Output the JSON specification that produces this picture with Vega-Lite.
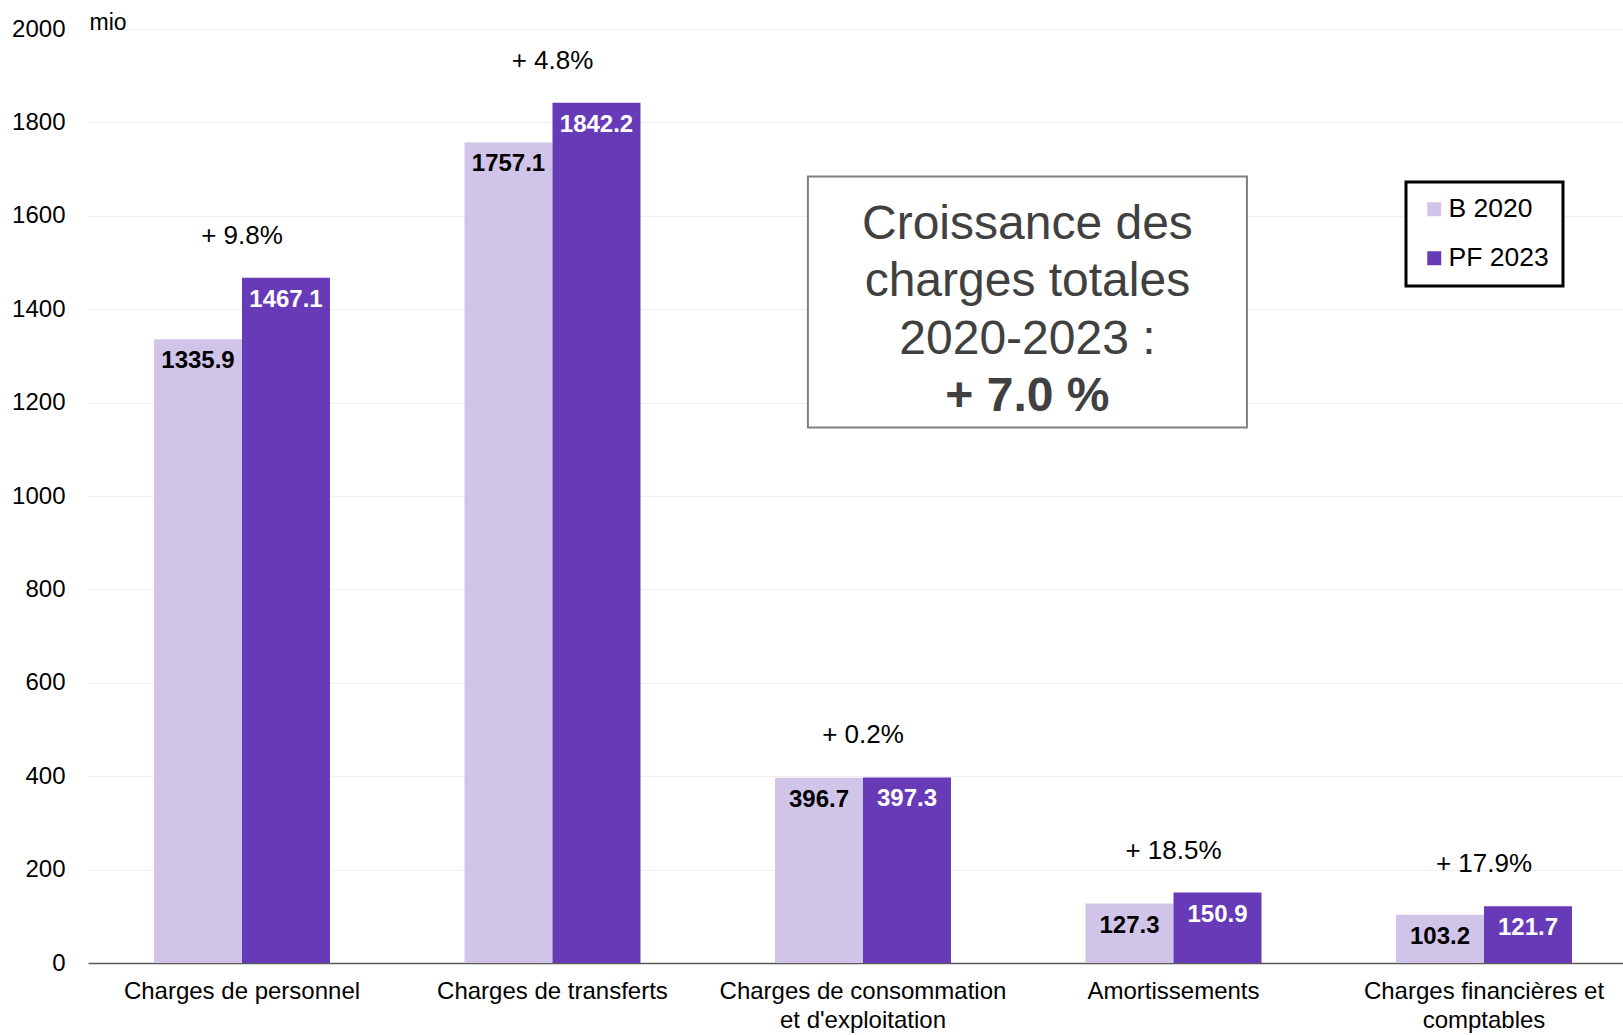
{
  "$schema": "https://vega.github.io/schema/vega-lite/v6.json",
  "width": 1535,
  "height": 934,
  "autosize": {"type": "none"},
  "padding": {"left": 88, "top": 29, "right": 0, "bottom": 72},
  "background": "white",
  "config": {
    "font": "Liberation Sans",
    "view": {"stroke": null},
    "legend": {"strokeWidth": 3}
  },
  "data": {
    "values": [
      {"cat": "Charges de personnel", "B 2020": 1335.9, "PF 2023": 1467.1, "growth": "+ 9.8%"},
      {"cat": "Charges de transferts", "B 2020": 1757.1, "PF 2023": 1842.2, "growth": "+ 4.8%"},
      {"cat": "Charges de consommation et d'exploitation", "B 2020": 396.7, "PF 2023": 397.3, "growth": "+ 0.2%"},
      {"cat": "Amortissements", "B 2020": 127.3, "PF 2023": 150.9, "growth": "+ 18.5%"},
      {"cat": "Charges financières et comptables", "B 2020": 103.2, "PF 2023": 121.7, "growth": "+ 17.9%"}
    ]
  },
  "layer": [
    {
      "layer": [
        {
          "transform": [{"fold": ["B 2020", "PF 2023"], "as": ["series", "value"]}],
          "mark": {"type": "bar"},
          "encoding": {
            "x": {
              "field": "cat", "type": "nominal", "sort": null,
              "scale": {"paddingInner": 0.4332, "paddingOuter": 0.1884, "align": 0.564},
              "axis": {
                "title": null,
                "labelExpr": "datum.label == \"Charges de consommation et d'exploitation\" ? [\"Charges de consommation\", \"et d'exploitation\"] : datum.label == \"Charges financières et comptables\" ? [\"Charges financières et\", \"comptables\"] : datum.label",
                "labelAngle": 0, "labelFontSize": 24, "labelColor": "#000", "labelPadding": 16,
                "labelBaseline": "top", "labelLineHeight": 29, "labelLimit": 500,
                "domainColor": "#595959", "domainWidth": 1.5, "ticks": false, "grid": false
              }
            },
            "xOffset": {"field": "series", "scale": {"paddingInner": 0, "paddingOuter": 0}},
            "y": {
              "field": "value", "type": "quantitative",
              "scale": {"domain": [0, 2000], "nice": false},
              "axis": {
                "title": "mio", "values": [0, 200, 400, 600, 800, 1000, 1200, 1400, 1600, 1800, 2000],
                "grid": true, "gridColor": "#efefef", "domain": false, "ticks": false, "tickSize": 0,
                "labelFontSize": 24, "labelPadding": 23, "labelColor": "#000", "format": "d",
                "titleAngle": 0, "titleAlign": "left", "titleBaseline": "alphabetic",
                "titleX": 1, "titleY": 0, "titleFontSize": 23, "titleFontWeight": "normal", "titleColor": "#000"
              }
            },
            "color": {
              "field": "series", "type": "nominal",
              "scale": {"domain": ["B 2020", "PF 2023"], "range": ["#D1C4E9", "#673AB7"]},
              "legend": {
                "title": null, "orient": "none", "legendX": 1318, "legendY": 153,
                "symbolType": "square", "symbolSize": 196, "symbolStrokeWidth": 0,
                "labelFontSize": 26.5, "labelColor": "#000", "labelOffset": 1,
                "strokeColor": "#000", "fillColor": "white",
                "padding": 14, "symbolOffset": 1, "rowPadding": 22
              }
            }
          }
        },
        {
          "transform": [{"fold": ["B 2020", "PF 2023"], "as": ["series", "value"]}],
          "mark": {"type": "text", "fontWeight": "bold", "fontSize": 24, "baseline": "middle", "dy": 22},
          "encoding": {
            "x": {"field": "cat", "type": "nominal", "sort": null},
            "xOffset": {"field": "series"},
            "y": {"field": "value", "type": "quantitative"},
            "text": {"field": "value", "type": "quantitative", "format": ".1f"},
            "color": {"condition": {"test": "datum.series == 'PF 2023'", "value": "white"}, "value": "black"}
          }
        },
        {
          "mark": {"type": "text", "fontSize": 26, "baseline": "middle", "dy": -42, "color": "#000"},
          "encoding": {
            "x": {"field": "cat", "type": "nominal", "sort": null},
            "y": {"field": "PF 2023", "type": "quantitative"},
            "text": {"field": "growth"}
          }
        }
      ]
    },
    {
      "data": {"values": [{}]},
      "layer": [
        {
          "mark": {"type": "rect", "fill": "white", "stroke": "#808080", "strokeWidth": 2},
          "encoding": {
            "x": {"datum": 0.469, "type": "quantitative", "scale": {"domain": [0, 1], "nice": false, "zero": false}, "axis": null},
            "x2": {"datum": 0.755},
            "y": {"datum": 1684.2, "type": "quantitative"},
            "y2": {"datum": 1146.7}
          }
        },
        {
          "mark": {"type": "text", "fontSize": 48, "color": "#404040", "baseline": "middle"},
          "encoding": {
            "x": {"datum": 0.612, "type": "quantitative"},
            "y": {"datum": 1580, "type": "quantitative"},
            "text": {"value": "Croissance des"}
          }
        },
        {
          "mark": {"type": "text", "fontSize": 48, "color": "#404040", "baseline": "middle"},
          "encoding": {
            "x": {"datum": 0.612, "type": "quantitative"},
            "y": {"datum": 1458, "type": "quantitative"},
            "text": {"value": "charges totales"}
          }
        },
        {
          "mark": {"type": "text", "fontSize": 48, "color": "#404040", "baseline": "middle"},
          "encoding": {
            "x": {"datum": 0.612, "type": "quantitative"},
            "y": {"datum": 1334, "type": "quantitative"},
            "text": {"value": "2020-2023 :"}
          }
        },
        {
          "mark": {"type": "text", "fontSize": 48, "fontWeight": "bold", "color": "#404040", "baseline": "middle"},
          "encoding": {
            "x": {"datum": 0.612, "type": "quantitative"},
            "y": {"datum": 1211, "type": "quantitative"},
            "text": {"value": "+ 7.0 %"}
          }
        }
      ]
    }
  ],
  "resolve": {"scale": {"x": "independent"}}
}
